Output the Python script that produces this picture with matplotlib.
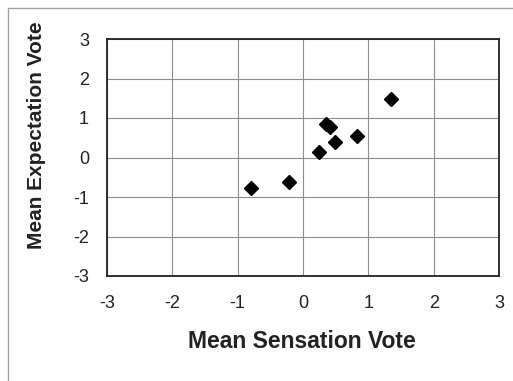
import matplotlib
matplotlib.use("Agg")
import matplotlib.pyplot as plt
from matplotlib.patches import Rectangle

plt.rcParams['font.family'] = ['Liberation Sans', 'DejaVu Sans']

sensation = [1.35, 0.35, 0.41, 0.49, 0.83, 0.245, -0.22, -0.80]
expectation = [1.49, 0.86, 0.76, 0.38, 0.55, 0.13, -0.63, -0.77]
ticks = [-3, -2, -1, 0, 1, 2, 3]

W, H = 513, 381
fig = plt.figure(figsize=(W / 100, H / 100), dpi=100)
fig.patches.append(Rectangle((8 / W, -0.1), 1.2, 1 - 8 / H + 0.1, transform=fig.transFigure,
                             fill=False, edgecolor='#a0a0a0', linewidth=1.0))

ax = fig.add_axes([107 / W, 1 - 276 / H, (499 - 107) / W, (276 - 39) / H])
ax.plot(sensation, expectation, linestyle='none', marker='D', markersize=7.5,
        color='black', zorder=3)
ax.set_xlim(-3, 3)
ax.set_ylim(-3, 3)
ax.set_xticks(ticks)
ax.set_yticks(ticks)
ax.set_xticklabels([str(t) for t in ticks])
ax.set_yticklabels([str(t) for t in ticks])
ax.grid(True, color='#8c8c8c', linewidth=0.8)
ax.set_axisbelow(True)
ax.tick_params(axis='both', length=0, labelsize=13, colors='#222222')
ax.tick_params(axis='x', pad=14)
ax.tick_params(axis='y', pad=13)
for s in ax.spines.values():
    s.set_color('#222222')
    s.set_linewidth(1.3)

fig.text(302 / W, 1 - 342 / H, 'Mean Sensation Vote', ha='center', va='center',
         fontsize=16.5, fontweight='bold', color='#222222')
fig.text(37 / W, 1 - 135 / H, 'Mean Expectation Vote', ha='center', va='center',
         rotation=90, fontsize=15, fontweight='bold', color='#222222')

fig.savefig('out.png', dpi=100)
